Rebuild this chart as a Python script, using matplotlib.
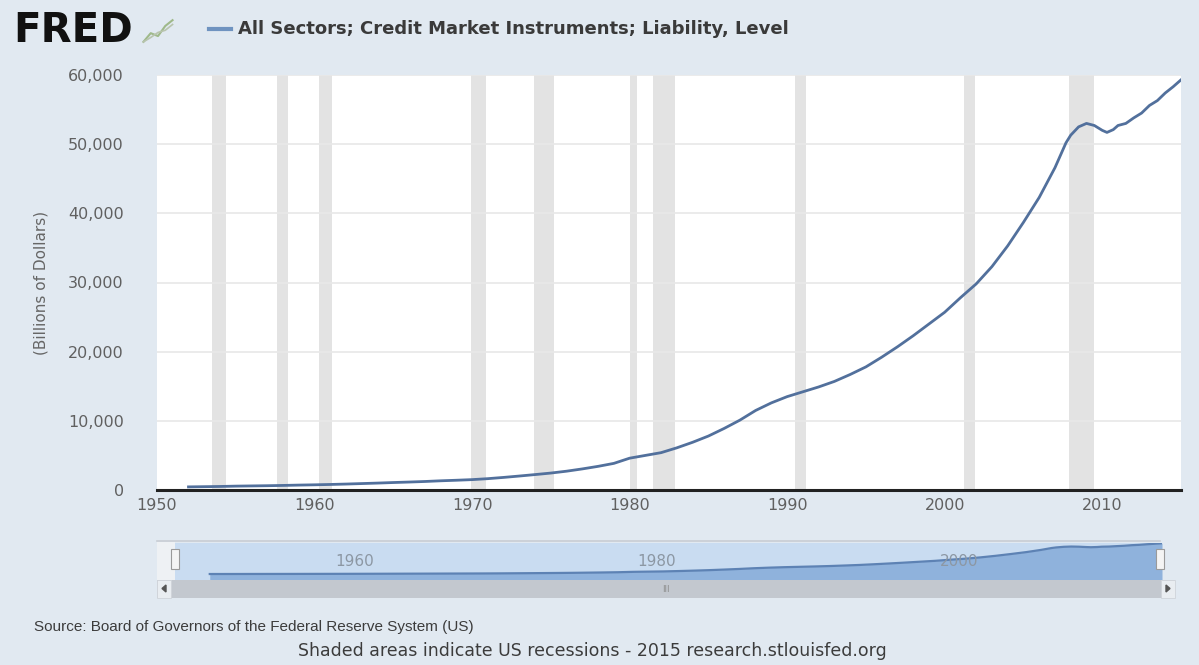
import numpy as np
import matplotlib
matplotlib.use("Agg")
import matplotlib.pyplot as plt
from matplotlib.patches import Rectangle, Polygon
from matplotlib.lines import Line2D
from matplotlib.ticker import FuncFormatter

# credit market instruments, all sectors, liability level (billions of dollars)
years = [1952, 1953, 1954, 1955, 1956, 1957, 1958, 1959, 1960, 1961,
         1962, 1963, 1964, 1965, 1966, 1967, 1968, 1969, 1970, 1971,
         1972, 1973, 1974, 1975, 1976, 1977, 1978, 1979, 1980, 1981,
         1982, 1983, 1984, 1985, 1986, 1987, 1988, 1989, 1990, 1991,
         1992, 1993, 1994, 1995, 1996, 1997, 1998, 1999, 2000, 2001,
         2002, 2003, 2004, 2005, 2006, 2007, 2007.7, 2008, 2008.5, 2009,
         2009.5, 2010, 2010.3, 2010.7, 2011, 2011.5, 2012, 2012.5, 2013,
         2013.5, 2014, 2014.5, 2015]
debt = [450, 480, 510, 560, 590, 620, 660, 710, 750, 800,
        860, 930, 1000, 1080, 1150, 1230, 1330, 1410, 1500, 1640,
        1820, 2020, 2230, 2450, 2720, 3050, 3420, 3850, 4600, 5000,
        5400, 6100, 6900, 7800, 8900, 10100, 11500, 12600, 13500, 14200,
        14900, 15700, 16700, 17800, 19200, 20700, 22300, 24000, 25700, 27800,
        29800, 32300, 35300, 38700, 42300, 46600, 50200, 51300, 52500, 53000,
        52700, 52000, 51700, 52100, 52700, 53000, 53800, 54500, 55600,
        56300, 57400, 58300, 59300]

recessions = [(1953.5, 1954.4), (1957.6, 1958.3), (1960.3, 1961.1),
              (1969.9, 1970.9), (1973.9, 1975.2), (1980.0, 1980.5),
              (1981.5, 1982.9), (1990.5, 1991.2), (2001.2, 2001.9),
              (2007.9, 2009.5)]

xticks = [1950, 1960, 1970, 1980, 1990, 2000, 2010]
yticks = [0, 10000, 20000, 30000, 40000, 50000, 60000]
nav_labels = [1960, 1980, 2000]

series_name = "All Sectors; Credit Market Instruments; Liability, Level"
source_txt = "Source: Board of Governors of the Federal Reserve System (US)"
note_txt = "Shaded areas indicate US recessions - 2015 research.stlouisfed.org"

W, H = 1199, 665
bg = "#e1e9f1"
line_col = "#52709c"


def fx(px):
    return px / W


def fy(py):
    return 1 - py / H


fig = plt.figure(figsize=(W / 100, H / 100), dpi=100, facecolor=bg)

# main chart
ax = fig.add_axes([fx(157), fy(490), (1181 - 157) / W, (490 - 75) / H])
ax.set_facecolor("white")
for a, b in recessions:
    ax.axvspan(a, b, color="#e3e3e3", lw=0, zorder=1)
ax.plot(years, debt, color=line_col, lw=2.0, zorder=3)
ax.set_xlim(1950, 2015)
ax.set_ylim(0, 60000)
ax.set_xticks(xticks)
ax.set_yticks(yticks)
ax.yaxis.set_major_formatter(FuncFormatter(lambda v, p: f"{int(v):,}"))
ax.grid(axis="y", color="#e8e8e8", lw=1.2, zorder=0)
ax.tick_params(axis="both", length=0, labelsize=11.5, colors="#606060")
ax.tick_params(axis="y", pad=24)
ax.tick_params(axis="x", pad=6)
for s in ["top", "right", "left"]:
    ax.spines[s].set_visible(False)
ax.spines["bottom"].set_color("#222222")
ax.spines["bottom"].set_linewidth(2.2)
ax.spines["bottom"].set_zorder(4)
ax.set_ylabel("(Billions of Dollars)", fontsize=11, color="#666666", labelpad=14)

# header: logo and legend
fig.text(fx(13), fy(31), "FRED", fontsize=29, fontweight="heavy", color="#111111",
         va="center", ha="left", family="DejaVu Sans")
icon = fig.add_axes([fx(142), fy(44), 32 / W, 26 / H])
icon.plot([0, 1, 2, 3, 4], [0, 1.2, 0.8, 2.2, 3], color="#9fb98a", lw=1.5)
icon.plot([0, 1, 2, 3, 4], [0, 0.6, 1.3, 1.6, 2.4], color="#b8c4ae", lw=1.2)
icon.set_xlim(-0.2, 4.2)
icon.set_ylim(-0.3, 3.3)
icon.axis("off")
fig.add_artist(Line2D([fx(209), fx(231)], [fy(29), fy(29)], color="#6f93c0", lw=3,
                      transform=fig.transFigure))
fig.text(fx(238), fy(29), series_name, fontsize=13, fontweight="bold",
         color="#3a3a3a", va="center", ha="left", family="DejaVu Sans")

# navigator
fig.add_artist(Line2D([fx(157), fx(1160)], [fy(541), fy(541)], color="#c8cdd3", lw=1.2,
                      transform=fig.transFigure))
fig.add_artist(Rectangle((fx(157), fy(580)), (175 - 157) / W, 38 / H,
                         facecolor="#eef1f4", edgecolor="none", transform=fig.transFigure))
nav = fig.add_axes([fx(175), fy(580), (1162 - 175) / W, (580 - 543) / H])
nav.set_facecolor("#c9dcf1")
nav.fill_between(years, debt, -11000, color="#8fb2dc", lw=0)
nav.plot(years, debt, color="#5d82b4", lw=1.6)
nav.set_xlim(1949.7, 2015.0)
nav.set_ylim(-11000, 59800)
nav.set_xticks([])
nav.set_yticks([])
for s in nav.spines.values():
    s.set_visible(False)
for yr in nav_labels:
    nav.annotate(str(yr), (yr, 0.5), xycoords=("data", "axes fraction"),
                 xytext=(3, 0), textcoords="offset points", fontsize=11,
                 color="#8c97a3", va="center", ha="left")

# handles
for hx in [175, 1160]:
    fig.add_artist(Rectangle((fx(hx - 4), fy(569)), 8 / W, 20 / H, facecolor="#f4f4f4",
                             edgecolor="#9a9a9a", lw=0.8, transform=fig.transFigure))

# scrollbar
fig.add_artist(Rectangle((fx(157), fy(598)), (1175 - 157) / W, 18 / H,
                         facecolor="#c3c8cf", edgecolor="none", transform=fig.transFigure))
for bx in [157, 1161]:
    fig.add_artist(Rectangle((fx(bx), fy(598)), 14 / W, 18 / H, facecolor="#e9edf1",
                             edgecolor="#cfd4da", lw=0.6, transform=fig.transFigure))
fig.add_artist(Polygon([(fx(166), fy(585)), (fx(166), fy(592)), (fx(162), fy(588.5))],
                       closed=True, color="#555555", transform=fig.transFigure))
fig.add_artist(Polygon([(fx(1166), fy(585)), (fx(1166), fy(592)), (fx(1170), fy(588.5))],
                       closed=True, color="#555555", transform=fig.transFigure))
fig.text(fx(666), fy(590), "III", fontsize=6, color="#8a8a8a", ha="center", va="center")

# footer
fig.text(fx(34), fy(627), source_txt, fontsize=11, color="#3c3c3c", ha="left", va="center",
         family="Liberation Sans")
fig.text(fx(592), fy(651), note_txt, fontsize=12.5, color="#3c3c3c", ha="center", va="center")

fig.savefig("out.png", dpi=100, facecolor=bg)
